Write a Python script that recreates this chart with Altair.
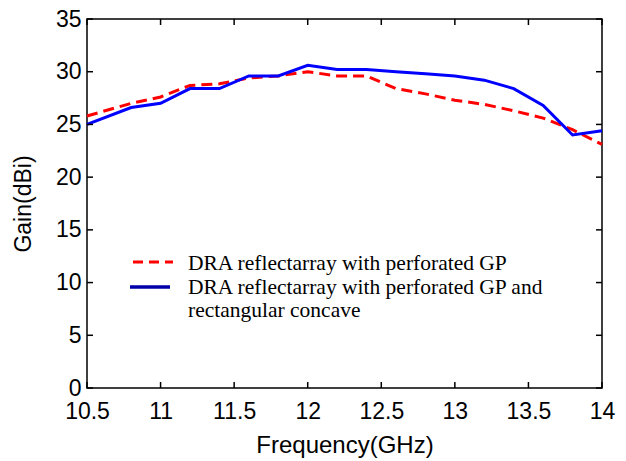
import altair as alt
import pandas as pd

freq_blue = [10.5, 10.8, 11.0, 11.2, 11.4, 11.6, 11.8, 12.0, 12.2, 12.4, 12.6, 12.8, 13.0, 13.2, 13.4, 13.6, 13.8, 14.0]
gain_blue = [25.0, 26.6, 27.0, 28.4, 28.4, 29.6, 29.6, 30.6, 30.2, 30.2, 30.0, 29.8, 29.6, 29.2, 28.4, 26.8, 24.0, 24.4]

freq_red = [10.5, 10.8, 11.0, 11.2, 11.4, 11.6, 11.8, 12.0, 12.2, 12.4, 12.6, 12.8, 13.0, 13.2, 13.4, 13.6, 13.8, 14.0]
gain_red = [25.8, 27.0, 27.6, 28.7, 28.85, 29.4, 29.6, 30.0, 29.6, 29.6, 28.4, 27.9, 27.3, 26.9, 26.3, 25.6, 24.5, 23.1]

x_ticks = [10.5, 11, 11.5, 12, 12.5, 13, 13.5, 14]
y_ticks = [0, 5, 10, 15, 20, 25, 30, 35]

legend_red = "DRA reflectarray with perforated GP"
legend_blue_1 = "DRA reflectarray with perforated GP and"
legend_blue_2 = "rectangular concave"

W, H = 515, 369
TICK = 6

df_blue = pd.DataFrame({"f": freq_blue, "g": gain_blue})
df_red = pd.DataFrame({"f": freq_red, "g": gain_red})

xs = alt.Scale(domain=[10.5, 14], nice=False, zero=False)
ys = alt.Scale(domain=[0, 35], nice=False, zero=False)

x_axis = alt.Axis(values=x_ticks, title="Frequency(GHz)", ticks=False, domain=False, grid=False,
                  labelFont="Liberation Sans", labelFontSize=23, labelColor="black", labelPadding=12,
                  labelExpr="format(datum.value, '')",
                  titleFont="Liberation Sans", titleFontSize=24, titleFontWeight="normal", titleColor="black",
                  titlePadding=10, labelFlush=False)
y_axis = alt.Axis(values=y_ticks, title="Gain(dBi)", ticks=False, domain=False, grid=False,
                  labelFont="Liberation Sans", labelFontSize=23, labelColor="black", labelPadding=6,
                  titleFont="Liberation Sans", titleFontSize=23, titleFontWeight="normal", titleColor="black",
                  titlePadding=20, labelFlush=False)

red = alt.Chart(df_red).mark_line(color="#ff0000", strokeWidth=3, strokeDash=[11, 6]).encode(
    x=alt.X("f:Q", scale=xs, axis=x_axis),
    y=alt.Y("g:Q", scale=ys, axis=y_axis),
)
blue = alt.Chart(df_blue).mark_line(color="#0000ff", strokeWidth=3).encode(
    x=alt.X("f:Q", scale=xs),
    y=alt.Y("g:Q", scale=ys),
)

dfx = pd.DataFrame({"t": x_ticks})
dfy = pd.DataFrame({"t": y_ticks})
xt_bottom = alt.Chart(dfx).mark_rule(color="black", strokeWidth=1.5).encode(
    x=alt.X("t:Q", scale=xs), y=alt.value(H), y2=alt.value(H - TICK))
xt_top = alt.Chart(dfx).mark_rule(color="black", strokeWidth=1.5).encode(
    x=alt.X("t:Q", scale=xs), y=alt.value(0), y2=alt.value(TICK))
yt_left = alt.Chart(dfy).mark_rule(color="black", strokeWidth=1.5).encode(
    y=alt.Y("t:Q", scale=ys), x=alt.value(0), x2=alt.value(TICK))
yt_right = alt.Chart(dfy).mark_rule(color="black", strokeWidth=1.5).encode(
    y=alt.Y("t:Q", scale=ys), x=alt.value(W), x2=alt.value(W - TICK))

one = pd.DataFrame({"a": [0]})
leg_red_line = alt.Chart(one).mark_rule(color="#ff0000", strokeWidth=3, strokeDash=[10, 6]).encode(
    x=alt.value(46), x2=alt.value(86), y=alt.value(243))
leg_blue_line = alt.Chart(one).mark_rule(color="#0000aa", strokeWidth=3.5).encode(
    x=alt.value(43), x2=alt.value(83), y=alt.value(268))

def leg_text(txt, ypix):
    return alt.Chart(pd.DataFrame({"t": [txt]})).mark_text(
        font="Liberation Serif", fontSize=21.5, align="left", baseline="middle", color="black").encode(
        text="t:N", x=alt.value(101), y=alt.value(ypix))

chart = alt.layer(red, blue, xt_bottom, xt_top, yt_left, yt_right,
                  leg_red_line, leg_blue_line,
                  leg_text(legend_red, 245), leg_text(legend_blue_1, 269), leg_text(legend_blue_2, 292)).properties(
    width=W, height=H,
    autosize=alt.AutoSizeParams(type="none"),
    padding={"left": 79, "top": 11, "right": 16, "bottom": 72},
    background="white",
).configure_view(stroke="black", strokeWidth=1.5)

chart.save("out.html", embed_options={"renderer": "svg", "actions": False})
